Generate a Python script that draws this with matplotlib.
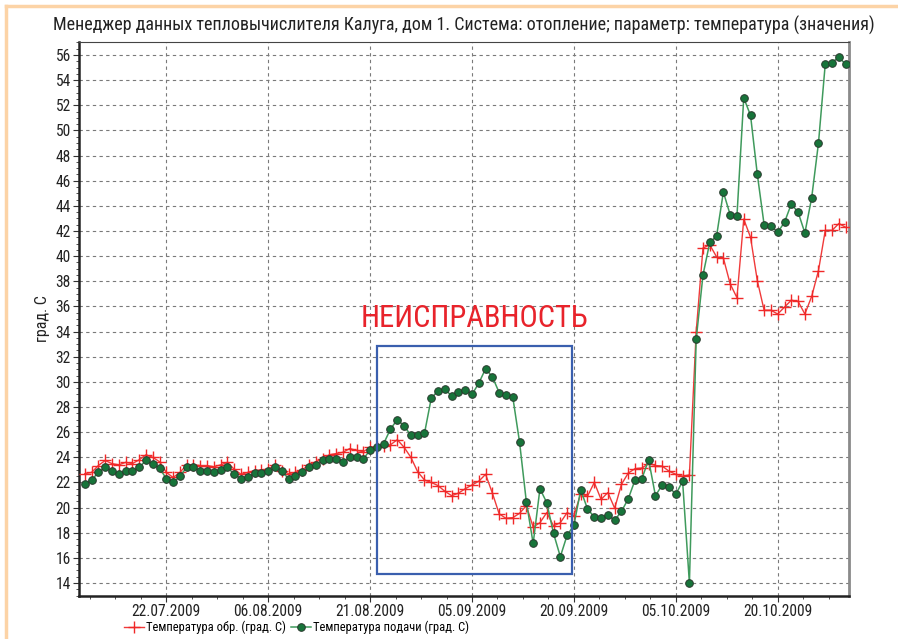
import datetime as dt
import numpy as np
import matplotlib
matplotlib.use("Agg")
import matplotlib.pyplot as plt
import matplotlib.dates as mdates
from matplotlib import font_manager
from matplotlib.patches import Rectangle
from matplotlib.lines import Line2D

# use a narrow face if one is installed, otherwise shrink Liberation Sans a little
installed = {f.name for f in font_manager.fontManager.ttflist}
narrow = [n for n in ['Liberation Sans Narrow', 'DejaVu Sans Condensed', 'Roboto Condensed'] if n in installed]
if narrow:
    plt.rcParams['font.family'] = [narrow[0], 'DejaVu Sans']
    k = 1.0
else:
    plt.rcParams['font.family'] = ['Liberation Sans', 'DejaVu Sans']
    k = 0.88

# daily readings, 10.07.2009 .. 30.10.2009
start_date = dt.datetime(2009, 7, 10)

t_return = [22.7, 22.8, 23.35, 23.75, 23.5, 23.4, 23.6, 23.5, 23.8, 24.2, 24.0, 23.65, 22.8,
            22.4, 22.8, 23.4, 23.4, 23.35, 23.35, 23.25, 23.4, 23.6, 23.05, 22.65, 22.8, 22.95,
            23.0, 23.05, 23.4, 22.95, 22.7, 22.8, 23.0, 23.4, 23.65, 23.9, 24.2,
            24.3, 24.4, 24.7,
            24.55, 24.45, 24.8, 24.85, 24.9, 25.0, 25.4, 24.8, 24.0, 22.85, 22.2, 22.0, 21.75,
            21.3, 20.95, 21.15, 21.5, 21.8, 22.1, 22.65, 21.15, 19.5, 19.15, 19.2, 19.55, 20.15,
            18.45, 18.8, 19.6, 18.55, 18.8, 19.6, 19.35, 21.1, 20.9, 22.0, 20.65, 21.2, 19.95,
            21.85, 22.75, 23.1, 23.15, 23.5,
            23.35, 23.3, 22.9, 22.65, 22.5, 22.6,
            34.0, 40.65, 40.9, 39.95, 39.85, 37.8, 36.7, 42.95, 41.5, 38.05, 35.7, 35.7, 35.4,
            35.95, 36.5, 36.4, 35.4, 36.8, 38.85, 42.05, 42.05, 42.6, 42.3]

t_supply = [21.9, 22.2, 22.8, 23.2, 22.9, 22.7, 22.9, 22.9, 23.2, 23.75, 23.45, 23.15, 22.3,
            22.0, 22.5, 23.2, 23.2, 22.95, 22.95, 22.8, 23.0, 23.2, 22.65, 22.3, 22.4, 22.75,
            22.75, 22.9, 23.2, 22.9, 22.3, 22.5, 22.8, 23.2, 23.4, 23.8, 23.9,
            23.9, 23.65, 24.0,
            24.0, 23.85, 24.6, 24.8, 25.1, 26.25, 27.0, 26.5, 25.75, 25.8, 25.9, 28.7, 29.3,
            29.4, 28.9, 29.2, 29.35, 29.0, 29.9, 31.05, 30.4, 29.15, 28.95, 28.8, 25.2, 20.45,
            17.15, 21.5, 20.4, 17.95, 16.1, 17.8, 18.6, 21.4, 19.9, 19.25, 19.2, 19.4, 19.0,
            19.7, 20.7, 22.2, 22.3, 23.8,
            20.95, 21.8, 21.65, 21.05, 22.1, 14.0,
            33.4, 38.5, 41.1, 41.6, 45.1, 43.3, 43.2, 52.6, 51.2, 46.5, 42.5, 42.4, 41.9,
            42.7, 44.15, 43.5, 41.85, 44.65, 49.0, 55.3, 55.4, 55.85, 55.25]

dates = [start_date + dt.timedelta(days=i) for i in range(len(t_supply))]

label_return = 'Температура обр. (град. С)'
label_supply = 'Температура подачи (град. С)'
title = 'Менеджер данных тепловычислителя Калуга, дом 1. Система: отопление; параметр: температура (значения)'
fault_text = 'НЕИСПРАВНОСТЬ'

fig = plt.figure(figsize=(8.98, 6.39), dpi=100)
ax = fig.add_axes([0.088, 0.0673, 0.8574, 0.8674])

ax.plot(dates, t_return, color='#f03a3a', linewidth=1.0, marker='+', markersize=8,
        markeredgewidth=1.0, markeredgecolor='#f02828', label=label_return, zorder=3)
ax.plot(dates, t_supply, color='#3f9a5c', linewidth=1.1, marker='o', markersize=5.5,
        markerfacecolor='#17743a', markeredgecolor='#2a3a2e', markeredgewidth=0.7,
        label=label_supply, zorder=4)

# fault box
x0 = mdates.date2num(dt.datetime(2009, 8, 22, 2))
x1 = mdates.date2num(dt.datetime(2009, 9, 19, 18))
ax.add_patch(Rectangle((x0, 14.7), x1 - x0, 32.85 - 14.7, fill=False,
                       edgecolor='#3a5fae', linewidth=1.6, zorder=5))
ax.text((x0 + x1) / 2, 33.9, fault_text, color='#e8232b', fontsize=22 * k,
        ha='center', va='bottom')

major_dates = [dt.datetime(2009, 7, 22) + dt.timedelta(days=15 * i) for i in range(7)]
ax.set_xticks(major_dates)
ax.xaxis.set_major_formatter(mdates.DateFormatter('%d.%m.%Y'))
m0 = mdates.date2num(major_dates[0])
ax.set_xticks(np.arange(m0 - 3.75 * 4, m0 + 3.75 * 30, 3.75), minor=True)

ax.set_yticks(np.arange(14, 57, 2))
ax.set_yticks(np.arange(13, 57.01, 0.5), minor=True)

# limits after the ticks, so the tick lists do not widen them
ax.set_xlim(dt.datetime(2009, 7, 9, 3, 36), dt.datetime(2009, 10, 30, 11, 45))
ax.set_ylim(12.97, 57.06)

ax.grid(True, which='major', linestyle=(0, (3, 3)), color='#7a7a7a', linewidth=0.8)
ax.tick_params(which='major', length=4, width=0.8, color='#333333', labelsize=11.2 * k,
               labelcolor='#222222', pad=2)
ax.tick_params(which='minor', length=2, width=0.6, color='#333333')

ax.set_ylabel('град. С', fontsize=11.5 * k, color='#222222', labelpad=4)
ax.set_title(title, fontsize=13 * k, color='#222222', pad=8)

for side in ['left', 'bottom']:
    ax.spines[side].set_linewidth(1.8)
    ax.spines[side].set_color('#222222')
ax.spines['top'].set_linewidth(0.8)
ax.spines['top'].set_color('#444444')
ax.spines['right'].set_linewidth(2.0)
ax.spines['right'].set_color('#8a8a8a')

fig.legend(loc='center left', bbox_to_anchor=(0.125, 0.018), ncol=2, frameon=False,
           fontsize=9 * k, handlelength=1.6, handletextpad=0.2, columnspacing=0.4)

# orange page frame
fig.add_artist(Line2D([6 / 898, 1.0], [1 - 6 / 639, 1 - 6 / 639], transform=fig.transFigure,
                      color='#fcd3a6', linewidth=2.5))
fig.add_artist(Line2D([6 / 898, 6 / 898], [0, 1 - 6 / 639], transform=fig.transFigure,
                      color='#fcd3a6', linewidth=2.5))

fig.savefig('out.png', dpi=100)
